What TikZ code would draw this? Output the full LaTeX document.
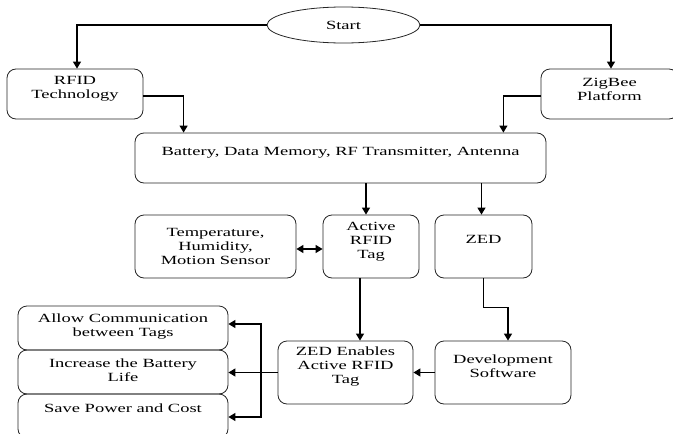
\documentclass[tikz,border=0pt]{standalone}
\usepackage{fontspec}
\setmainfont{Liberation Serif}[FakeStretch=1.48]
\usetikzlibrary{shapes,arrows.meta}

\tikzset{
  box/.style={draw=black!85,line width=0.8pt,rounded corners=9pt,inner sep=0pt},
  link/.style={line width=1.1pt,->}
}

\begin{document}
\begin{tikzpicture}[x=1pt,y=-1pt,>={Triangle[length=7pt,width=8pt]},
    every node/.style={font=\fontsize{12.5}{14}\selectfont},
    every label/.style={align=center}]
  \clip (0,0) rectangle (673,434);
  \node[draw=black!85,line width=0.8pt,ellipse,minimum width=153pt,minimum height=36pt] (start) at (343.5,25) {Start};
  \node[box,minimum width=136pt,minimum height=50pt,label={[yshift=5pt]center:RFID\\Technology}] (rfid) at (75,94) {};
  \node[box,minimum width=137pt,minimum height=50pt,label={[yshift=5pt]center:ZigBee\\Platform}] (zigbee) at (609.5,94) {};
  \node[box,minimum width=411pt,minimum height=50pt,label={[yshift=5pt]center:{Battery, Data Memory, RF Transmitter, Antenna}}] (parts) at (340.5,158) {};
  \node[box,minimum width=161pt,minimum height=63pt,label={center:{Temperature,\\Humidity,\\Motion Sensor}}] (sensor) at (215.5,246.5) {};
  \node[box,minimum width=96pt,minimum height=63pt,label={[yshift=5pt]center:Active\\RFID\\Tag}] (tag) at (371,246.5) {};
  \node[box,minimum width=97pt,minimum height=63pt,label={[yshift=7.5pt]center:ZED}] (zed) at (483.5,246.5) {};
  \node[box,minimum width=135pt,minimum height=63pt,label={[yshift=5.5pt]center:ZED Enables\\Active RFID\\Tag}] (enable) at (345.5,372.5) {};
  \node[box,minimum width=136pt,minimum height=63pt,label={[yshift=6.5pt]center:Development\\Software}] (devsw) at (503,372.5) {};
  \node[box,minimum width=210pt,minimum height=44pt,label={[yshift=1.5pt]center:Allow Communication\\between Tags}] (comm) at (123,328) {};
  \node[box,minimum width=210pt,minimum height=44pt,label={[yshift=2pt]center:Increase the Battery\\Life}] (life) at (123,372) {};
  \node[box,minimum width=210pt,minimum height=44pt,label={[yshift=8pt]center:Save Power and Cost}] (cost) at (123,416) {};
  \coordinate (bus) at (261,0);

  \draw[link] (start.west) -| ([xshift=2pt]rfid.north);
  \draw[link] (start.east) -| ([xshift=1.5pt]zigbee.north);
  \draw[link] ([yshift=-2pt]rfid.east) -| ([xshift=49pt]parts.north west);
  \draw[link] ([yshift=-2pt]zigbee.west) -| ([xshift=-43pt]parts.north east);
  \draw[link] ([xshift=-5pt]tag.north |- parts.south) -- ([xshift=-5pt]tag.north);
  \draw[link] ([xshift=-2pt]zed.north |- parts.south) -- ([xshift=-2pt]zed.north);
  \draw[link,<->] ([yshift=-2.5pt]sensor.east) -- ([yshift=-2.5pt]sensor.east -| tag.west);
  \draw[link] ([xshift=-11pt]tag.south) -- ([xshift=-11pt]tag.south |- enable.north);
  \draw[link] (zed.south) -- ++(0,29) -| ([xshift=5pt]devsw.north);
  \draw[link] (devsw.west) -- (enable.east);
  \draw[link] (enable.west) -- (enable.west -| life.east);
  \draw[link] (enable.west -| bus) |- ([yshift=4pt]comm.east);
  \draw[link] (enable.west -| bus) |- ([yshift=-1pt]cost.east);
\end{tikzpicture}
\end{document}
